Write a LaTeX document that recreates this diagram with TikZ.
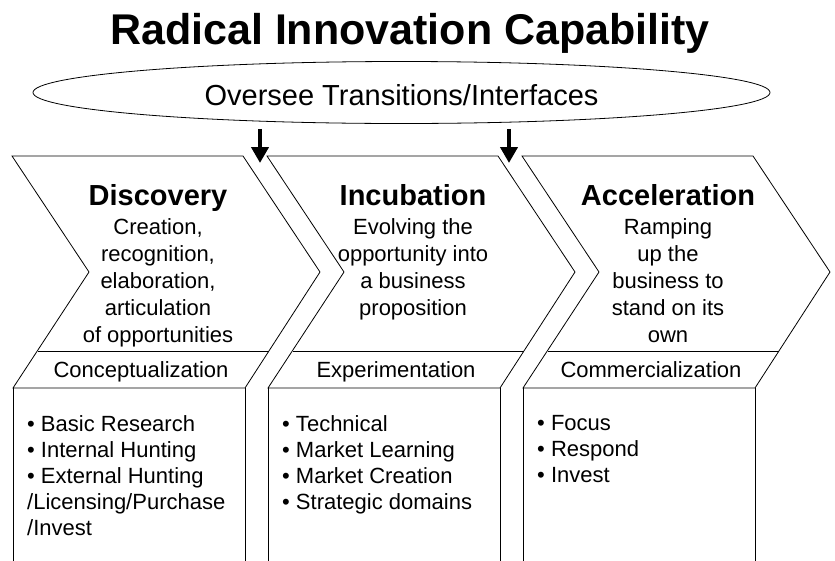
\documentclass[tikz,border=0pt]{standalone}
\usepackage{fontspec}
\setmainfont{Liberation Sans}
\usepackage{tikz}
\usetikzlibrary{arrows.meta,positioning,shapes.geometric}
\tikzset{>={Triangle[width=17pt,length=16pt]}}
\tikzset{chevron/.style = {draw, line width=0.8pt, line join=miter},
        arrowline/.style = {->, line width=4.5pt},
        bandnode/.style = {font=\fontsize{22}{26}\selectfont, inner sep=0pt, anchor=base},
        listnode/.style = {font=\fontsize{22}{26}\selectfont, align=left,
                  inner sep=0pt, anchor=north west}
    }

\begin{document}
\begin{tikzpicture}[x=1pt, y=-1pt]
    \tikzstyle{titlenode} = [font=\fontsize{43}{50}\selectfont\bfseries, inner sep=0pt]
    \tikzstyle{ovnode} = [draw, ellipse, line width=0.8pt, minimum width=737pt, minimum height=62pt,
                          inner sep=0pt, text height=26pt, text depth=0pt, font=\fontsize{29}{34}\selectfont]
    \tikzstyle{headnode} = [font=\fontsize{29}{34}\selectfont\bfseries, inner sep=0pt,
                            text height=21pt, text depth=6pt]
    \tikzstyle{textnode} = [font=\fontsize{22}{27}\selectfont, align=center, inner sep=0pt]

    \useasboundingbox (0,0) rectangle (835,560);

    \node[titlenode, anchor=base] (title) at (410,44) {Radical Innovation Capability};
    \node[ovnode] (oversee) at (401.5,92.5) {Oversee Transitions/Interfaces};

    % discovery
    \draw[chevron] (12,156) -- (243,156) -- (320,272) -- (245,388) -- (13,388) -- (89,272) -- cycle;
    \draw[chevron] (37.5,351) -- (269,351);
    \draw[chevron] (13,388) -- (13,561);
    \draw[chevron] (245,388) -- (245,561);
    \node[headnode, anchor=base] (disc) at (158,205) {Discovery};
    \node[textnode, below=7pt of disc] (disctxt) {Creation,\\ recognition,\\ elaboration,\\ articulation\\ of opportunities};
    \node[bandnode] (concept) at (141,377.5) {Conceptualization};
    \node[listnode] (disclist) at (27,415) {\textbullet{} Basic Research\\ \textbullet{} Internal Hunting\\ \textbullet{} External Hunting\\ /Licensing/Purchase\\ /Invest};

    % incubation
    \draw[chevron] (267,156) -- (498,156) -- (575,272) -- (500,388) -- (268,388) -- (344,272) -- cycle;
    \draw[chevron] (292.5,351) -- (524,351);
    \draw[chevron] (268,388) -- (268,561);
    \draw[chevron] (500,388) -- (500,561);
    \node[headnode, anchor=base] (incub) at (413,205) {Incubation};
    \node[textnode, below=7pt of incub] (incubtxt) {Evolving the\\ opportunity into\\ a business\\ proposition};
    \node[bandnode] (experim) at (396,377.5) {Experimentation};
    \node[listnode] (incublist) at (282,415) {\textbullet{} Technical\\ \textbullet{} Market Learning\\ \textbullet{} Market Creation\\ \textbullet{} Strategic domains};

    % acceleration
    \draw[chevron] (522,156) -- (753,156) -- (830,272) -- (755,388) -- (523,388) -- (599,272) -- cycle;
    \draw[chevron] (547.5,351) -- (779,351);
    \draw[chevron] (523,388) -- (523,561);
    \draw[chevron] (755,388) -- (755,561);
    \node[headnode, anchor=base] (accel) at (668,205) {Acceleration};
    \node[textnode, below=7pt of accel] (acceltxt) {Ramping\\ up the\\ business to\\ stand on its\\ own};
    \node[bandnode] (commerc) at (651,377.5) {Commercialization};
    \node[listnode] (accellist) at (537,415) {\textbullet{} Focus\\ \textbullet{} Respond\\ \textbullet{} Invest};

    % transitions
    \coordinate (gapa) at (260,163);
    \coordinate (gapb) at (509,163);
    \draw[arrowline] (oversee.south -| gapa) ++(0,5) -- (gapa);
    \draw[arrowline] (oversee.south -| gapb) ++(0,5) -- (gapb);
\end{tikzpicture}
\end{document}
